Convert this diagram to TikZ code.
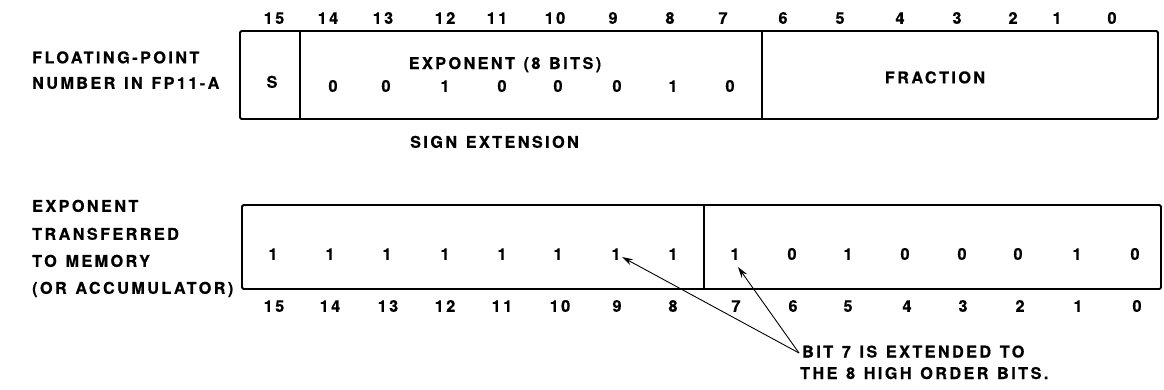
\documentclass[tikz,border=0pt]{standalone}
\usepackage{fontspec}
\setmainfont{TeX Gyre Heros}[LetterSpace=15,WordSpace=1.25,BoldFeatures={FakeBold=0.6}]
\usetikzlibrary{arrows.meta}
\begin{document}
\begin{tikzpicture}[x=1pt,y=-1pt,
  lbl/.style={inner sep=0pt,font=\bfseries\fontsize{16.2}{19}\selectfont,text=black},
  num/.style={lbl,anchor=base},
  lft/.style={lbl,anchor=base west},
  boxline/.style={line width=1.8pt,rounded corners=1.5pt},
  divline/.style={line width=1.4pt},
  pointer/.style={line width=0.9pt,-{Stealth[length=11pt,width=6.5pt]}}]
\useasboundingbox (0,0) rectangle (1164,389);
% ---------- top word ----------
\draw[boxline] (240,31) rectangle (1158,119);
\draw[divline] (300,31) -- (300,119);
\draw[divline] (762,31) -- (762,119);
\node[lft] (l1a) at (32,63.3) {FLOATING-POINT};
\node[lft] (l1b) at (32,88.8) {NUMBER IN FP11-A};
\foreach \n/\x in {15/274,14/328,13/383,12/445,11/497,10/555,9/613,8/670,7/723,6/783,5/840,4/900,3/957,2/1013,1/1057,0/1112}
  \node[num] (t\n) at (\x,23.8) {\n};
\node[num] (sgn) at (272,87.8) {S};
\node[num] (expl) at (505,69) {EXPONENT (8 BITS)};
\foreach \n/\x/\v in {14/333/0,13/386/0,12/445/1,11/502/0,10/558/0,9/617/0,8/673/1,7/730/0}
  \node[num] (e\n) at (\x,91.8) {\v};
\node[num] (frac) at (935,83.3) {FRACTION};
\node[lft] (sext) at (410,147.8) {SIGN EXTENSION};
% ---------- bottom word ----------
\draw[boxline] (242,205) rectangle (1161,289);
\draw[divline] (704,205) -- (704,289);
\node[lft] (l2a) at (32,211.8) {EXPONENT};
\node[lft] (l2b) at (32,239.8) {TRANSFERRED};
\node[lft] (l2c) at (32,266.8) {TO MEMORY};
\node[lft] (l2d) at (32,293.8) {(OR ACCUMULATOR)};
\foreach \n/\x/\v in {15/273/1,14/330/1,13/387/1,12/445/1,11/502/1,10/558/1,9/616/1,8/673/1,7/735/1,6/792/0,5/848/1,4/905/0,3/962/0,2/1018/0,1/1077/1,0/1135/0}
  \node[num] (b\n) at (\x,259.8) {\v};
\foreach \n/\x in {15/274,14/330,13/388,12/445,11/502,10/560,9/617,8/673,7/736,6/793,5/848,4/907,3/963,2/1020,1/1078,0/1137}
  \node[num] (n\n) at (\x,311.8) {\n};
% ---------- note ----------
\node[lft] (note1) at (802,357.5) {BIT 7 IS EXTENDED TO};
\node[lft] (note2) at (800,379) {THE 8 HIGH ORDER BITS.};
\coordinate (src) at (799,353);
\coordinate (tip9) at (622,257);
\coordinate (tip7) at (738,267);
\draw[pointer] (src) -- (tip9);
\draw[pointer] (src) -- (tip7);
\end{tikzpicture}
\end{document}
